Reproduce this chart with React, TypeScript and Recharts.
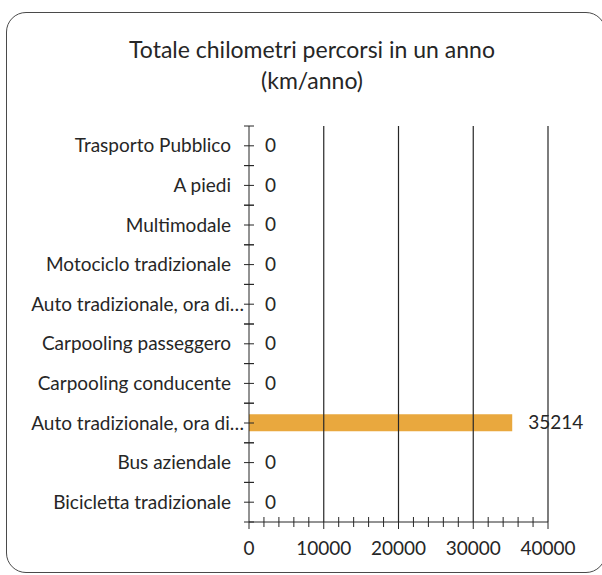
import { BarChart, Bar, XAxis, YAxis, ReferenceLine, LabelList } from 'recharts';

const categories = [
  'Trasporto Pubblico',
  'A piedi',
  'Multimodale',
  'Motociclo tradizionale',
  'Auto tradizionale, ora di…',
  'Carpooling passeggero',
  'Carpooling conducente',
  'Auto tradizionale, ora di…',
  'Bus aziendale',
  'Bicicletta tradizionale',
];
const kmPerYear = [0, 0, 0, 0, 0, 0, 0, 35214, 0, 0];
const xTicks = [
  0, 2000, 4000, 6000, 8000, 10000, 12000, 14000, 16000, 18000, 20000,
  22000, 24000, 26000, 28000, 30000, 32000, 34000, 36000, 38000, 40000,
];
const gridValues = [10000, 20000, 30000, 40000];

const chartData = categories.map((name, i) => ({ key: `${i}`, name, value: kmPerYear[i] }));

const W = 602;
const H = 575;
const TOP = 126;
const BOTTOM = 53;
const BAND = (H - TOP - BOTTOM) / categories.length;
const INK = '#262626';
const FONT = 'Lato, "Open Sans", sans-serif';

function CategoryTick(props: any) {
  const { x, y, payload } = props;
  const label = categories[Number(payload.value)];
  const truncated = label.endsWith('…');
  return (
    <g>
      <line x1={x - 5} x2={x + 5} y1={y} y2={y} stroke={INK} />
      <line x1={x - 5} x2={x + 5} y1={y - BAND / 2} y2={y - BAND / 2} stroke={INK} />
      <line x1={x - 5} x2={x + 5} y1={y + BAND / 2} y2={y + BAND / 2} stroke={INK} />
      <text
        x={truncated ? x - 5 : x - 18}
        y={y}
        dy="0.35em"
        textAnchor="end"
        fontSize={19}
        fill={INK}
        fontFamily={FONT}
      >
        {label}
      </text>
    </g>
  );
}

function ValueTick(props: any) {
  const { x, y, payload } = props;
  const major = payload.value % 10000 === 0;
  if (!major) {
    return <line x1={x} x2={x} y1={y - 5} y2={y + 5} stroke={INK} />;
  }
  return (
    <g>
      <line x1={x} x2={x} y1={y} y2={y + 7} stroke={INK} />
      <text x={x} y={y + 33} textAnchor="middle" fontSize={19} fill={INK} fontFamily={FONT}>
        {payload.value}
      </text>
    </g>
  );
}

export default function App() {
  return (
    <div style={{ position: 'absolute', left: 0, top: 0, width: W, height: H, background: '#fff', fontFamily: FONT }}>
      <div
        style={{
          position: 'absolute',
          left: 6,
          top: 12,
          width: 598,
          height: 559,
          border: '1.5px solid #4a4a4a',
          borderRadius: 20,
        }}
      />
      <div
        style={{
          position: 'absolute',
          left: 0,
          top: 34,
          width: 624,
          textAlign: 'center',
          fontSize: 23,
          lineHeight: '31px',
          color: INK,
        }}
      >
        Totale chilometri percorsi in un anno
        <br />
        (km/anno)
      </div>
      <BarChart
        width={W}
        height={H}
        data={chartData}
        layout="vertical"
        margin={{ top: TOP, right: 54, bottom: 0, left: 0 }}
        style={{ position: 'absolute', left: 0, top: 0 }}
      >
        <XAxis
          type="number"
          domain={[0, 40000]}
          ticks={xTicks}
          interval={0}
          height={BOTTOM}
          tickSize={0}
          tickMargin={0}
          tickLine={false}
          axisLine={{ stroke: INK }}
          tick={<ValueTick />}
        />
        <YAxis
          type="category"
          dataKey="key"
          width={249}
          interval={0}
          tickSize={0}
          tickMargin={0}
          tickLine={false}
          axisLine={{ stroke: INK }}
          tick={<CategoryTick />}
        />
        {gridValues.map((v) => (
          <ReferenceLine key={v} x={v} stroke={INK} strokeWidth={1.2} />
        ))}
        <Bar dataKey="value" fill="#E9A83E" barSize={17} minPointSize={0.01} isAnimationActive={false}>
          <LabelList dataKey="value" position="right" offset={16} fontSize={19} fill={INK} fontFamily={FONT} />
        </Bar>
      </BarChart>
    </div>
  );
}
